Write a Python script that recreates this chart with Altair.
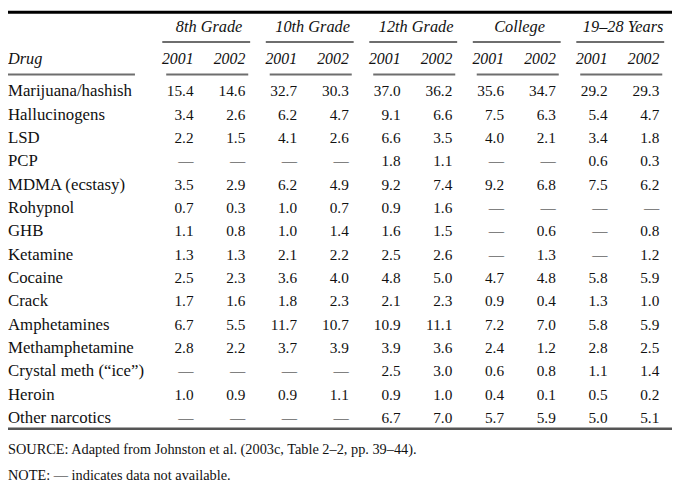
import altair as alt
import pandas as pd

# ---- data ----
groups = ["8th Grade", "10th Grade", "12th Grade", "College", "19\u201328 Years"]
years = ["2001", "2002"]
drugs = ["Marijuana/hashish", "Hallucinogens", "LSD", "PCP", "MDMA (ecstasy)",
         "Rohypnol", "GHB", "Ketamine", "Cocaine", "Crack", "Amphetamines",
         "Methamphetamine", "Crystal meth (\u201cice\u201d)", "Heroin", "Other narcotics"]
N = None
g8_2001 = [15.4, 3.4, 2.2, N, 3.5, 0.7, 1.1, 1.3, 2.5, 1.7, 6.7, 2.8, N, 1.0, N]
g8_2002 = [14.6, 2.6, 1.5, N, 2.9, 0.3, 0.8, 1.3, 2.3, 1.6, 5.5, 2.2, N, 0.9, N]
g10_2001 = [32.7, 6.2, 4.1, N, 6.2, 1.0, 1.0, 2.1, 3.6, 1.8, 11.7, 3.7, N, 0.9, N]
g10_2002 = [30.3, 4.7, 2.6, N, 4.9, 0.7, 1.4, 2.2, 4.0, 2.3, 10.7, 3.9, N, 1.1, N]
g12_2001 = [37.0, 9.1, 6.6, 1.8, 9.2, 0.9, 1.6, 2.5, 4.8, 2.1, 10.9, 3.9, 2.5, 0.9, 6.7]
g12_2002 = [36.2, 6.6, 3.5, 1.1, 7.4, 1.6, 1.5, 2.6, 5.0, 2.3, 11.1, 3.6, 3.0, 1.0, 7.0]
col_2001 = [35.6, 7.5, 4.0, N, 9.2, N, N, N, 4.7, 0.9, 7.2, 2.4, 0.6, 0.4, 5.7]
col_2002 = [34.7, 6.3, 2.1, N, 6.8, N, 0.6, 1.3, 4.8, 0.4, 7.0, 1.2, 0.8, 0.1, 5.9]
y1928_2001 = [29.2, 5.4, 3.4, 0.6, 7.5, N, N, N, 5.8, 1.3, 5.8, 2.8, 1.1, 0.5, 5.0]
y1928_2002 = [29.3, 4.7, 1.8, 0.3, 6.2, N, 0.8, 1.2, 5.9, 1.0, 5.9, 2.5, 1.4, 0.2, 5.1]
columns = [g8_2001, g8_2002, g10_2001, g10_2002, g12_2001, g12_2002,
           col_2001, col_2002, y1928_2001, y1928_2002]
source_text = "SOURCE: Adapted from Johnston et al. (2003c, Table 2\u20132, pp. 39\u201344)."
note_text = "NOTE: \u2014 indicates data not available."

# ---- layout (column / row units) ----
FONT = "Liberation Serif"
XDOM = [-3.585, 9.245]
YDOM = [-3.458, 16.708]
xs = alt.Scale(domain=XDOM, nice=False, zero=False)
ys = alt.Scale(domain=YDOM, nice=False, zero=False, reverse=True)

ROW_GROUP, ROW_GRULE, ROW_YEAR, ROW_YRULE = -2.75, -2.125, -1.375, -0.729
ROW_TOP, ROW_BOTTOM, ROW_SOURCE, ROW_NOTE = -3.40, 14.46, 15.375, 16.5

cells = []
for k, col in enumerate(columns):
    for r, v in enumerate(col):
        cells.append({"col": k, "row": r,
                      "txt": "\u2014" if v is None else f"{v:.1f}"})
cells = pd.DataFrame(cells)

labels = pd.DataFrame({"row": list(range(len(drugs))), "txt": drugs})

year_hdr = pd.DataFrame([{"col": 2 * g + i, "row": ROW_YEAR, "txt": y}
                         for g in range(len(groups)) for i, y in enumerate(years)])
group_hdr = pd.DataFrame([{"col": 2 * g + 0.3, "row": ROW_GROUP, "txt": name}
                          for g, name in enumerate(groups)])
drug_hdr = pd.DataFrame([{"row": ROW_YEAR, "txt": "Drug"}])
notes = pd.DataFrame([{"row": ROW_SOURCE, "txt": source_text},
                      {"row": ROW_NOTE, "txt": note_text}])

rules = []
rules.append({"x": XDOM[0], "x2": XDOM[1], "row": ROW_TOP, "c": "#000000", "w": 3})
rules.append({"x": XDOM[0], "x2": XDOM[1], "row": ROW_BOTTOM, "c": "#555555", "w": 2.5})
rules.append({"x": XDOM[0], "x2": -1.132, "row": ROW_YRULE, "c": "#6e6e6e", "w": 2})
for g in range(len(groups)):
    rules.append({"x": 2 * g - 0.604, "x2": 2 * g + 1 + 0.094, "row": ROW_GRULE, "c": "#6e6e6e", "w": 2})
    rules.append({"x": 2 * g - 0.528, "x2": 2 * g + 1 + 0.057, "row": ROW_YRULE, "c": "#6e6e6e", "w": 2})
rules = pd.DataFrame(rules)

base_txt = dict(font=FONT, color="#111111", baseline="middle")

cell_layer = alt.Chart(cells).mark_text(align="right", fontSize=15.5, **base_txt).encode(
    x=alt.X("col:Q", scale=xs, axis=None),
    y=alt.Y("row:Q", scale=ys, axis=None),
    text="txt:N")

label_layer = alt.Chart(labels).mark_text(align="left", fontSize=17, **base_txt).encode(
    x=alt.value(0),
    y=alt.Y("row:Q", scale=ys, axis=None),
    text="txt:N")

year_layer = alt.Chart(year_hdr).mark_text(align="right", fontSize=16, fontStyle="italic", **base_txt).encode(
    x=alt.X("col:Q", scale=xs, axis=None),
    y=alt.Y("row:Q", scale=ys, axis=None),
    text="txt:N")

group_layer = alt.Chart(group_hdr).mark_text(align="center", fontSize=16.5, fontStyle="italic", **base_txt).encode(
    x=alt.X("col:Q", scale=xs, axis=None),
    y=alt.Y("row:Q", scale=ys, axis=None),
    text="txt:N")

drug_layer = alt.Chart(drug_hdr).mark_text(align="left", fontSize=16.5, fontStyle="italic", **base_txt).encode(
    x=alt.value(0),
    y=alt.Y("row:Q", scale=ys, axis=None),
    text="txt:N")

note_layer = alt.Chart(notes).mark_text(align="left", fontSize=14.5, **base_txt).encode(
    x=alt.value(0),
    y=alt.Y("row:Q", scale=ys, axis=None),
    text="txt:N")

rule_layer = alt.Chart(rules).mark_rule().encode(
    x=alt.X("x:Q", scale=xs, axis=None),
    x2="x2:Q",
    y=alt.Y("row:Q", scale=ys, axis=None),
    color=alt.Color("c:N", scale=None),
    strokeWidth=alt.StrokeWidth("w:Q", scale=None))

chart = alt.layer(rule_layer, cell_layer, label_layer, year_layer, group_layer,
                  drug_layer, note_layer).properties(
    width=672, height=476, padding=0, autosize=alt.AutoSizeParams(type="none"),
    background="white"
).configure_view(stroke=None)

chart.save("out.html", embed_options={"renderer": "svg", "actions": False})
